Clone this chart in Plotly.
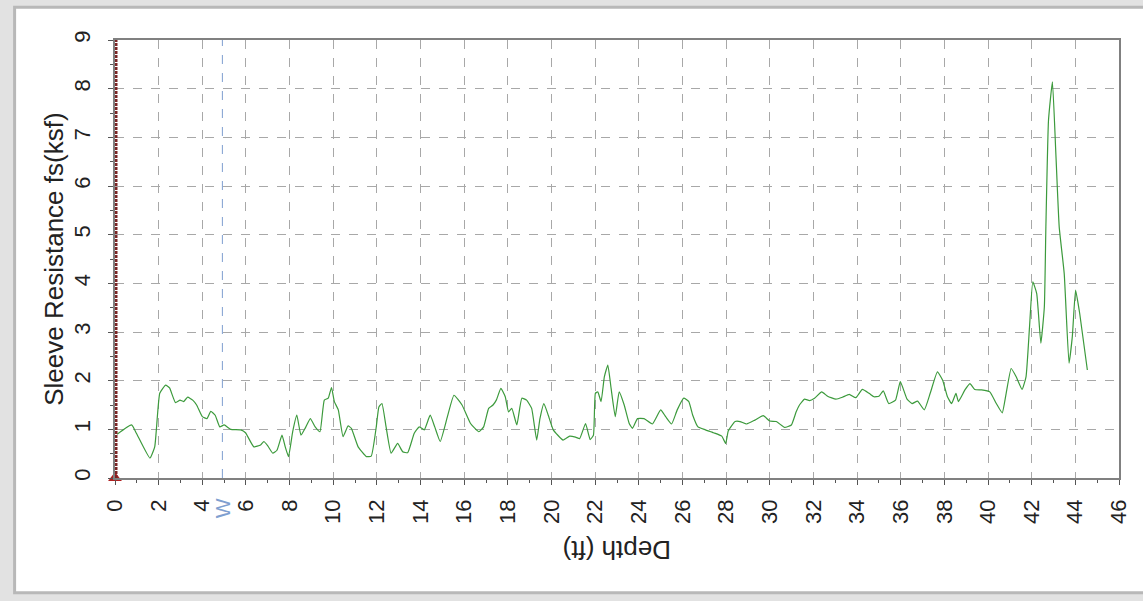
import plotly.graph_objects as go

# sleeve resistance log
depth = [0.1, 0.76, 0.98, 1.6, 1.82, 2.05, 2.32, 2.5, 2.77, 2.98, 3.14, 3.33, 3.56, 3.74,
         4.0, 4.21, 4.39, 4.59, 4.8, 5.0, 5.3, 5.76, 5.98, 6.36, 6.67, 6.82, 7.0, 7.23,
         7.42, 7.65, 7.8, 7.95, 8.14, 8.33, 8.52, 8.71, 8.95, 9.17, 9.39, 9.59, 9.77,
         9.92, 10.05, 10.23, 10.45, 10.68, 10.83, 11.14, 11.52, 11.74, 11.97, 12.09,
         12.23, 12.42, 12.65, 12.95, 13.18, 13.41, 13.71, 13.94, 14.17, 14.44, 14.65,
         14.9, 15.23, 15.53, 15.9, 16.29, 16.67, 16.89, 17.12, 17.32, 17.47, 17.68,
         17.88, 18.03, 18.18, 18.41, 18.64, 18.86, 19.09, 19.32, 19.47, 19.65, 19.85,
         20.08, 20.53, 20.83, 21.1, 21.29, 21.56, 21.77, 21.92, 22.01, 22.12, 22.27,
         22.42, 22.58, 22.73, 22.92, 23.1, 23.33, 23.56, 23.71, 23.94, 24.24, 24.62,
         25.0, 25.23, 25.5, 25.76, 26.06, 26.29, 26.47, 26.71, 27.05, 27.42, 27.8,
         27.98, 28.1, 28.41, 28.64, 28.94, 29.32, 29.7, 30.0, 30.3, 30.68, 30.99,
         31.21, 31.36, 31.59, 31.82, 32.05, 32.38, 32.65, 33.03, 33.33, 33.64, 33.94,
         34.24, 34.55, 34.77, 35.0, 35.2, 35.45, 35.76, 35.98, 36.29, 36.52, 36.77,
         37.08, 37.35, 37.68, 37.92, 38.14, 38.33, 38.53, 38.64, 38.94, 39.17, 39.39,
         39.7, 40.08, 40.38, 40.65, 40.83, 41.06, 41.29, 41.56, 41.74, 41.9, 42.05,
         42.23, 42.42, 42.58, 42.65, 42.77, 42.95, 43.1, 43.26, 43.49, 43.71, 43.86,
         44.01, 44.2, 44.55]
fs = [0.9, 1.09, 0.92, 0.41, 0.64, 1.74, 1.91, 1.85, 1.55, 1.6, 1.57, 1.66, 1.6, 1.5,
      1.26, 1.22, 1.37, 1.29, 1.05, 1.09, 1.0, 0.99, 0.93, 0.64, 0.68, 0.75, 0.66, 0.51,
      0.57, 0.88, 0.64, 0.44, 0.95, 1.29, 0.88, 1.02, 1.22, 1.05, 0.95, 1.6, 1.64,
      1.86, 1.57, 1.4, 0.85, 1.07, 1.02, 0.64, 0.44, 0.45, 1.05, 1.46,
      1.53, 1.05, 0.51, 0.71, 0.54, 0.52, 0.92, 1.05, 0.99, 1.29, 1.05,
      0.75, 1.26, 1.7, 1.5, 1.12, 0.95, 1.05, 1.43, 1.5, 1.6, 1.84,
      1.67, 1.36, 1.43, 1.09, 1.64, 1.6, 1.43, 0.78, 1.22, 1.53, 1.29,
      0.99, 0.78, 0.86, 0.84, 0.81, 1.12, 0.79, 0.88, 1.74, 1.77, 1.57,
      2.08, 2.32, 1.84, 1.26, 1.77, 1.5, 1.12, 1.02, 1.22, 1.22, 1.11,
      1.4, 1.26, 1.11, 1.4, 1.64, 1.57, 1.29, 1.05, 0.99, 0.93, 0.86,
      0.71, 0.97, 1.16, 1.16, 1.11, 1.19, 1.28, 1.17, 1.16, 1.04, 1.09,
      1.36, 1.5, 1.62, 1.59, 1.64, 1.77, 1.68, 1.62, 1.66, 1.72, 1.65,
      1.82, 1.74, 1.67, 1.68, 1.79, 1.53, 1.6, 1.98, 1.62, 1.53, 1.58,
      1.4, 1.74, 2.18, 2.01, 1.67, 1.53, 1.74, 1.57, 1.81, 1.94, 1.82,
      1.81, 1.77, 1.53, 1.34, 1.74, 2.25, 2.08, 1.82, 2.08, 3.1, 4.03,
      3.79, 2.77, 3.52, 5.16, 7.35, 8.14, 6.74, 5.16, 4.2, 2.36, 2.9,
      3.86, 3.38, 2.22]

x_ticks = list(range(0, 48, 2))
y_ticks = list(range(0, 10))
water_depth = 4.92

FONT = "Liberation Sans, Arial, sans-serif"

fig = go.Figure()
fig.add_trace(go.Scatter(x=depth, y=fs, mode="lines", line_shape="spline",
                         line=dict(color="#3c9a3c", width=1.2, smoothing=0.4),
                         showlegend=False))

# red line sits on the plot edge, so half of it gets clipped -> draw it wide
fig.add_vline(x=0, line=dict(color="#7a2424", width=5, dash="3px,1px"))
fig.add_vline(x=water_depth, line=dict(color="#7f9fd0", width=1, dash="dash"))

# markers at the foot of the two vertical lines
fig.add_trace(go.Scatter(x=[0], y=[0], mode="markers", cliponaxis=False,
                         marker=dict(symbol="triangle-up", size=12, color="#b02020",
                                     line=dict(width=0)),
                         showlegend=False))
fig.add_trace(go.Scatter(x=[water_depth], y=[-0.15], mode="markers", cliponaxis=False,
                         marker=dict(symbol="star", size=8, color="#8aa8d8",
                                     line=dict(width=0)),
                         showlegend=False))

# outer panel frame
fig.add_shape(type="rect", xref="paper", yref="paper", layer="below",
              x0=-0.1, x1=1.03, y0=-0.262, y1=1.075,
              fillcolor="white", line=dict(color="#b8b8b8", width=3))

fig.add_annotation(text="Sleeve Resistance fs(ksf)", textangle=-90, showarrow=False,
                   xref="paper", yref="paper", x=-0.061, y=0.5,
                   xanchor="center", yanchor="middle",
                   font=dict(family=FONT, size=26, color="#222"))
fig.add_annotation(text="Depth (ft)", textangle=180, showarrow=False,
                   xref="paper", yref="paper", x=0.5, y=-0.164,
                   xanchor="center", yanchor="middle",
                   font=dict(family=FONT, size=26, color="#222"))
fig.add_annotation(text="W", textangle=-90, showarrow=False,
                   xref="x", yref="paper", x=water_depth, y=-0.068,
                   xanchor="center", yanchor="middle",
                   font=dict(family=FONT, size=21, color="#7f9fd0"))

axis_common = dict(showline=True, linecolor="#808080", linewidth=1.5, mirror=True,
                   showgrid=True, gridcolor="#a8a8a8", griddash="dash", gridwidth=1,
                   zeroline=False, ticks="outside", ticklen=5, tickcolor="#555",
                   tickfont=dict(family=FONT, size=22, color="#222"), tickangle=-90)

fig.update_xaxes(range=[0, 46], tickvals=x_ticks, ticklabelstandoff=6,
                 minor=dict(dtick=1, ticks="outside", ticklen=3, tickcolor="#555",
                            showgrid=False),
                 **axis_common)
fig.update_yaxes(range=[0, 9], tickvals=y_ticks, ticklabelstandoff=9,
                 minor=dict(dtick=0.5, ticks="outside", ticklen=3, tickcolor="#555",
                            showgrid=False),
                 **axis_common)

fig.update_layout(width=1143, height=601, autosize=False,
                  margin=dict(l=115, r=16, t=40, b=123),
                  paper_bgcolor="#e2e2e2", plot_bgcolor="rgba(0,0,0,0)",
                  font=dict(family=FONT))

fig.write_html("out.html", config={"displayModeBar": False},
               post_script="document.body.style.margin='0px';")
